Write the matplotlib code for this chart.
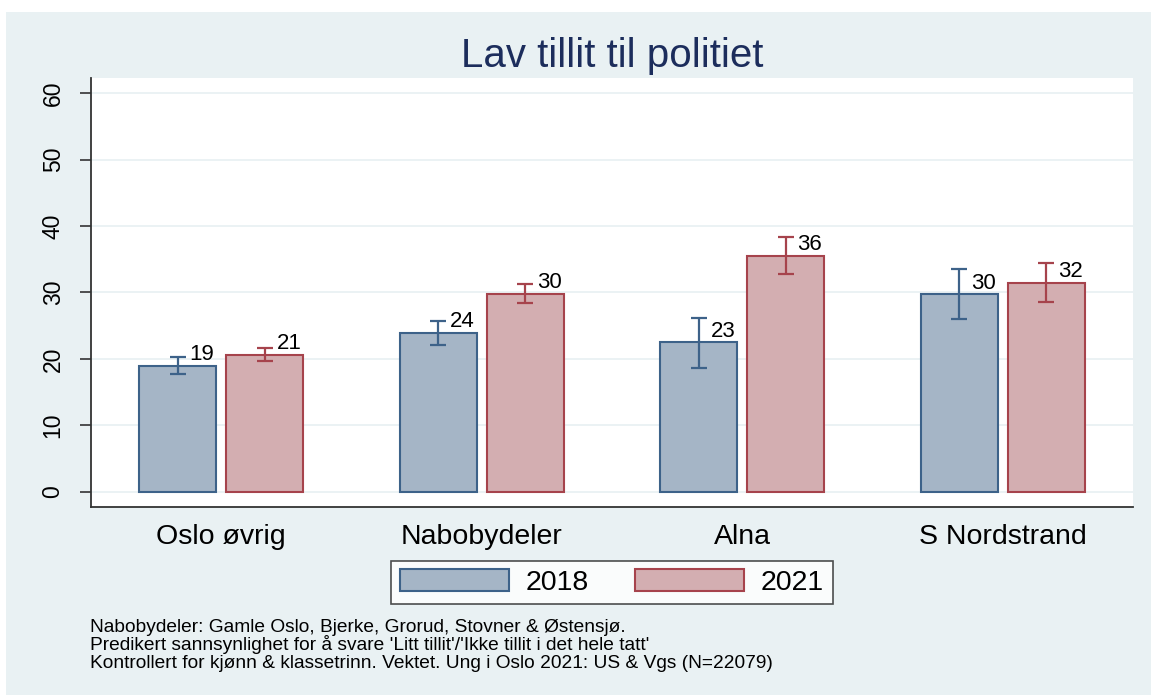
import numpy as np
import matplotlib.pyplot as plt
from matplotlib.patches import Rectangle, Patch

# data
groups = ['Oslo øvrig', 'Nabobydeler', 'Alna', 'S Nordstrand']
years = ['2018', '2021']
vals_2018 = [19.0, 23.9, 22.5, 29.7]
lo_2018 = [17.7, 22.1, 18.6, 26.0]
hi_2018 = [20.3, 25.7, 26.2, 33.5]
lab_2018 = ['19', '24', '23', '30']
vals_2021 = [20.6, 29.8, 35.5, 31.5]
lo_2021 = [19.7, 28.4, 32.8, 28.6]
hi_2021 = [21.6, 31.3, 38.4, 34.5]
lab_2021 = ['21', '30', '36', '32']
yticks = [0, 10, 20, 30, 40, 50, 60]
title = 'Lav tillit til politiet'
notes = [
    'Nabobydeler: Gamle Oslo, Bjerke, Grorud, Stovner & Østensjø.',
    "Predikert sannsynlighet for å svare 'Litt tillit'/'Ikke tillit i det hele tatt'",
    'Kontrollert for kjønn & klassetrinn. Vektet. Ung i Oslo 2021: US & Vgs (N=22079)',
]

plt.rcParams['font.family'] = ['Liberation Sans', 'DejaVu Sans']

W, H = 1151, 695
bg = '#e9f1f3'
fill = ['#a5b5c6', '#d3aeb1']
edge = ['#3d6289', '#a6434c']

fig = plt.figure(figsize=(W / 100, H / 100), dpi=100, facecolor='white')
# graph region (screenshot leaves a thin white strip top/left)
fig.patches.append(Rectangle((6 / W, 0), 1, (H - 12) / H, transform=fig.transFigure,
                             facecolor=bg, edgecolor='none', zorder=-10))

ax = fig.add_axes([91 / W, 1 - 507 / H, (1133 - 91) / W, (507 - 78) / H])
ax.set_facecolor('white')

x = np.arange(len(groups))
off = 0.167
bw = 0.296
series = [(vals_2018, lo_2018, hi_2018, lab_2018), (vals_2021, lo_2021, hi_2021, lab_2021)]
for k, (v, lo, hi, lab) in enumerate(series):
    xs = x + (2 * k - 1) * off
    v = np.array(v)
    ax.bar(xs, v, width=bw, color=fill[k], edgecolor=edge[k], linewidth=1.5, zorder=3)
    yerr = [v - np.array(lo), np.array(hi) - v]
    ax.errorbar(xs, v, yerr=yerr, fmt='none', ecolor=edge[k], elinewidth=1.6,
                capsize=5.5, capthick=1.6, zorder=4)
    for xi, vi, t in zip(xs, v, lab):
        ax.annotate(t, (xi, vi), xytext=(8.5, 8), textcoords='offset points',
                    ha='left', va='center', fontsize=16, color='black', zorder=5)

ax.set_xlim(-0.5, 3.5)
ax.set_ylim(-2.3, 62.3)
ax.set_yticks(yticks)
ax.set_yticklabels([str(t) for t in yticks], rotation=90, va='center', fontsize=16.5)
ax.set_xticks(x)
ax.set_xticklabels(groups, fontsize=20.5)
ax.tick_params(axis='x', length=0, pad=12)
ax.tick_params(axis='y', length=8, width=1.2, color='#333333', pad=11)
ax.grid(axis='y', color=bg, linewidth=1.3, zorder=0)
ax.set_axisbelow(True)
for s in ['top', 'right']:
    ax.spines[s].set_visible(False)
for s in ['left', 'bottom']:
    ax.spines[s].set_color('#333333')
    ax.spines[s].set_linewidth(1.3)

fig.text(612 / W, 1 - 56 / H, title, ha='center', va='center', fontsize=29, color='#1c2d5c')

fs_leg = 20.5
px = fs_leg * 100 / 72
handles = [Patch(facecolor=fill[k], edgecolor=edge[k], linewidth=1.5) for k in range(2)]
leg = fig.legend(handles, years, loc='center', bbox_to_anchor=(612 / W, 1 - 582.5 / H),
                 ncol=2, fontsize=fs_leg, frameon=True, fancybox=False, edgecolor='#222222',
                 handlelength=109 / px, handleheight=23 / px, handletextpad=17 / px,
                 columnspacing=46 / px, borderpad=0.3, borderaxespad=0)
leg.get_frame().set_linewidth(1.2)

for i, line in enumerate(notes):
    fig.text(90 / W, 1 - (632 + 18 * i) / H, line, ha='left', va='baseline', fontsize=13.8)

fig.savefig('out.png', dpi=100, facecolor=fig.get_facecolor())
